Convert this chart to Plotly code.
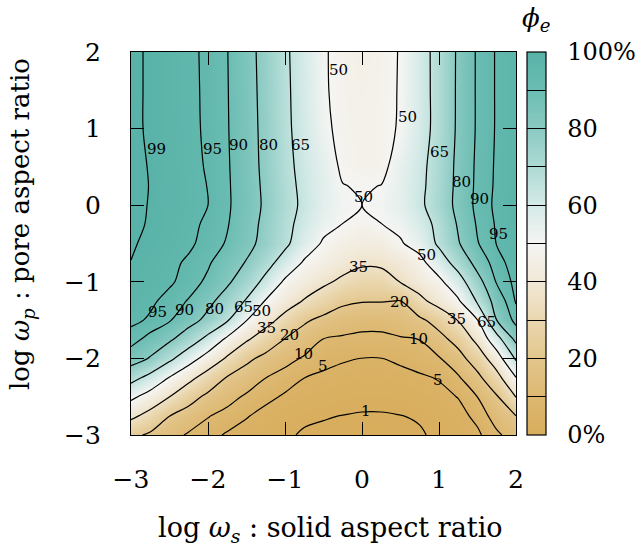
import plotly.graph_objects as go

# grid (log10 aspect ratios)
x_vals = [-3, -2.75, -2.5, -2.25, -2, -1.75, -1.5, -1.25, -1, -0.75, -0.5, -0.25,
          0, 0.25, 0.5, 0.75, 1, 1.25, 1.5, 1.75, 2]
y_vals = [-3, -2.75, -2.5, -2.25, -2, -1.75, -1.5, -1.25, -1, -0.75, -0.5, -0.25,
          0, 0.25, 0.5, 1, 1.5, 2]

# phi_e (%), one row per y value (bottom to top)
row_m300 = [23.0, 18.0, 13.0, 9.0, 6.6, 4.4, 2.85, 1.85, 1.2, 0.85, 0.7, 0.6, 0.55, 0.55, 0.65, 0.85, 1.3, 2.3, 4.0, 8.9, 13.0]
row_m275 = [38.0, 30.4, 20.2, 15.2, 10.4, 7.8, 5.4, 3.2, 2.0, 1.23, 1.1, 0.97, 0.85, 0.85, 0.97, 1.14, 1.9, 3.2, 6.4, 12.9, 20.0]
row_m250 = [53.0, 44.4, 35.2, 24.6, 17.4, 12.6, 8.9, 6.4, 4.3, 3.0, 2.2, 1.75, 1.6, 1.6, 1.8, 2.4, 3.4, 5.2, 10.1, 18.9, 35.5]
row_m225 = [70.0, 60.9, 49.6, 39.2, 28.8, 19.3, 14.6, 10.1, 7.5, 5.05, 4.2, 3.4, 2.95, 2.95, 3.4, 4.2, 5.4, 9.1, 17.0, 30.2, 49.8]
row_m200 = [86.0, 79.1, 68.1, 56.0, 44.3, 33.3, 22.6, 16.7, 12.3, 9.2, 6.4, 5.5, 4.95, 4.95, 6.0, 7.7, 9.4, 15.5, 26.9, 43.3, 67.0]
row_m175 = [92.5, 87.7, 81.9, 72.7, 61.0, 47.4, 36.7, 27.8, 19.6, 14.5, 9.8, 9.0, 8.6, 8.6, 9.3, 10.1, 16.1, 24.4, 38.9, 59.2, 83.5]
row_m150 = [96.3, 94.3, 90.7, 84.6, 76.7, 66.3, 50.3, 39.9, 30.5, 21.7, 17.0, 14.0, 12.2, 12.2, 14.3, 17.8, 25.0, 35.6, 49.8, 80.0, 92.5]
row_m125 = [97.5, 96.0, 93.3, 89.5, 83.1, 74.6, 63.8, 49.1, 41.4, 34.1, 28.2, 22.3, 20.6, 20.5, 19.8, 31.7, 40.4, 48.4, 66.8, 85.6, 95.5]
row_m100 = [98.3, 97.2, 95.8, 92.9, 88.6, 81.9, 72.9, 61.3, 47.9, 42.6, 37.3, 32.5, 29.2, 29.5, 35.5, 41.5, 47.2, 58.9, 75.9, 90.7, 96.5]
row_m075 = [98.95, 97.6, 96.1, 94.3, 90.9, 85.6, 79.3, 69.9, 59.2, 48.5, 44.5, 40.0, 36.8, 37.2, 40.5, 46.5, 57.5, 70.8, 84.3, 93.6, 96.8]
row_m050 = [99.3, 98.4, 97.1, 95.8, 93.4, 89.3, 83.3, 76.3, 67.7, 57.0, 48.5, 45.0, 43.0, 43.5, 49.0, 54.5, 67.3, 79.1, 89.6, 95.2, 97.0]
row_m025 = [99.5, 98.8, 97.4, 96.1, 94.2, 90.5, 84.4, 77.3, 68.7, 60.5, 53.5, 49.9, 47.5, 49.9, 52.5, 59.0, 68.5, 81.2, 90.9, 95.6, 97.4]
row_p000 = [99.5, 98.9, 97.7, 96.4, 95.0, 91.1, 85.3, 78.3, 69.8, 62.5, 55.5, 51.3, 50.0, 51.3, 55.5, 62.5, 72.0, 83.3, 92.1, 96.0, 97.9]
row_p025 = [99.5, 98.95, 97.65, 96.35, 94.9, 91.0, 85.1, 77.9, 69.2, 62.0, 55.4, 50.3, 49.2, 50.2, 55.2, 62.0, 71.5, 83.0, 91.8, 95.8, 97.7]
row_p050 = [99.5, 98.9, 97.6, 96.3, 94.6, 90.8, 84.8, 77.4, 68.5, 61.2, 55.2, 48.4, 47.0, 47.3, 54.8, 61.5, 71.0, 82.8, 91.6, 95.7, 97.5]
row_p100 = [99.5, 98.7, 97.4, 96.1, 94.3, 90.5, 84.4, 77.0, 67.6, 60.0, 52.0, 47.5, 46.8, 47.6, 50.8, 59.7, 69.3, 82.0, 91.1, 95.5, 97.2]
row_p150 = [99.5, 98.7, 97.35, 96.05, 94.2, 90.35, 84.1, 76.6, 67.25, 59.5, 51.0, 47.4, 46.4, 47.4, 50.6, 59.7, 69.4, 81.85, 91.1, 95.5, 97.2]
row_p200 = [99.5, 98.7, 97.3, 96.0, 94.1, 90.2, 83.8, 76.2, 66.9, 59.1, 50.9, 47.3, 46.0, 47.2, 50.5, 59.7, 69.5, 81.7, 91.1, 95.5, 97.2]

z_rows = [row_m300, row_m275, row_m250, row_m225, row_m200, row_m175, row_m150, row_m125,
          row_m100, row_m075, row_m050, row_m025, row_p000, row_p025, row_p050,
          row_p100, row_p150, row_p200]

contour_levels = [1, 5, 10, 20, 35, 50, 65, 80, 90, 95, 99]

# contour labels as printed on the chart
label_txt = ['99', '95', '90', '80', '65', '50', '50', '65', '80', '90', '95', '50', '50', '35',
             '95', '90', '80', '65', '50', '35', '20', '10', '5',
             '20', '35', '65', '10', '5', '1']
label_x = [-2.67, -1.94, -1.61, -1.22, -0.80, -0.31, 0.59, 1.01, 1.29, 1.53, 1.77, 0.02, 0.84, -0.05,
           -2.65, -2.30, -1.91, -1.54, -1.30, -1.24, -0.94, -0.76, -0.51,
           0.49, 1.23, 1.62, 0.73, 0.99, 0.05]
label_y = [0.74, 0.73, 0.78, 0.78, 0.79, 1.76, 1.15, 0.70, 0.30, 0.08, -0.37, 0.11, -0.65, -0.81,
           -1.39, -1.37, -1.35, -1.33, -1.38, -1.60, -1.70, -1.94, -2.10,
           -1.26, -1.49, -1.52, -1.75, -2.28, -2.69]

tick_vals = [-3, -2, -1, 0, 1, 2]
tick_text = ['\u22123', '\u22122', '\u22121', '0', '1', '2']
cb_vals = [0, 10, 20, 30, 40, 50, 60, 70, 80, 90, 100]
cb_text = ['0%', '', '20', '', '40', '', '60', '', '80', '', '100%']

SERIF = 'DejaVu Serif'
NB = '\u00a0\u00a0'

colorscale = [
    [0.0, 'rgb(216,173,92)'],
    [0.1, 'rgb(221,184,113)'],
    [0.2, 'rgb(227,198,141)'],
    [0.3, 'rgb(234,215,175)'],
    [0.4, 'rgb(241,232,214)'],
    [0.5, 'rgb(245,245,243)'],
    [0.6, 'rgb(212,234,231)'],
    [0.7, 'rgb(174,218,212)'],
    [0.8, 'rgb(138,202,194)'],
    [0.9, 'rgb(107,189,179)'],
    [1.0, 'rgb(88,178,167)'],
]

fig = go.Figure()
fig.add_trace(go.Heatmap(
    x=x_vals, y=y_vals, z=z_rows, zsmooth='best', zmin=0, zmax=100,
    colorscale=colorscale, hoverinfo='skip',
    colorbar=dict(
        thickness=19, thicknessmode='pixels', len=1, lenmode='fraction',
        x=1.0286, xanchor='left', xpad=0, y=0.5, yanchor='middle', ypad=0,
        outlinecolor='black', outlinewidth=1.2,
        tickmode='array', tickvals=cb_vals, ticktext=[NB + t for t in cb_text],
        ticks='inside', ticklen=19, tickcolor='black', tickwidth=1,
        tickfont=dict(family=SERIF, size=24, color='black'),
    ),
))

for lev in contour_levels:
    fig.add_trace(go.Contour(
        x=x_vals, y=y_vals, z=z_rows, autocontour=False,
        contours=dict(start=lev, end=lev, size=1, coloring='none'),
        line=dict(color='black', width=1.2, smoothing=1.0),
        showscale=False, hoverinfo='skip',
    ))

for tx, lx, ly in zip(label_txt, label_x, label_y):
    fig.add_annotation(x=lx, y=ly, xref='x', yref='y', text=tx, showarrow=False,
                       font=dict(family=SERIF, size=15, color='black'))

# axis titles and colour-bar title
fig.add_annotation(x=0.517, y=-0.248, xref='paper', yref='paper', showarrow=False,
                   xanchor='center', yanchor='middle',
                   text='log <i>\u03c9</i><sub><i>s</i></sub> : solid aspect ratio',
                   font=dict(family=SERIF, size=27, color='black'))
fig.add_annotation(x=-0.283, y=0.551, xref='paper', yref='paper', showarrow=False,
                   xanchor='center', yanchor='middle', textangle=-90,
                   text='log <i>\u03c9</i><sub><i>p</i></sub> : pore aspect ratio',
                   font=dict(family=SERIF, size=26, color='black'))
fig.add_annotation(x=1.052, y=1.0836, xref='paper', yref='paper', showarrow=False,
                   xanchor='center', yanchor='middle',
                   text='<i>\u03d5</i><sub><i>e</i></sub>',
                   font=dict(family=SERIF, size=26, color='black'))

axis_common = dict(
    range=[-3, 2], tickmode='array', tickvals=tick_vals, ticktext=tick_text,
    ticks='inside', ticklen=13, tickcolor='black', tickwidth=1.2,
    showline=True, linecolor='black', linewidth=1.3, mirror='ticks',
    showgrid=False, zeroline=False, automargin=False,
    tickfont=dict(family=SERIF, size=25, color='black'),
)

fig.update_layout(
    width=637, height=551,
    margin=dict(l=131, r=121, t=52, b=116, autoexpand=False),
    paper_bgcolor='white', plot_bgcolor='white',
    showlegend=False,
    xaxis=dict(axis_common, ticklabelstandoff=22),
    yaxis=dict(axis_common, ticklabelstandoff=24),
)

fig.write_html('out.html', config={'displayModeBar': False},
               post_script="document.body.style.margin='0';")
